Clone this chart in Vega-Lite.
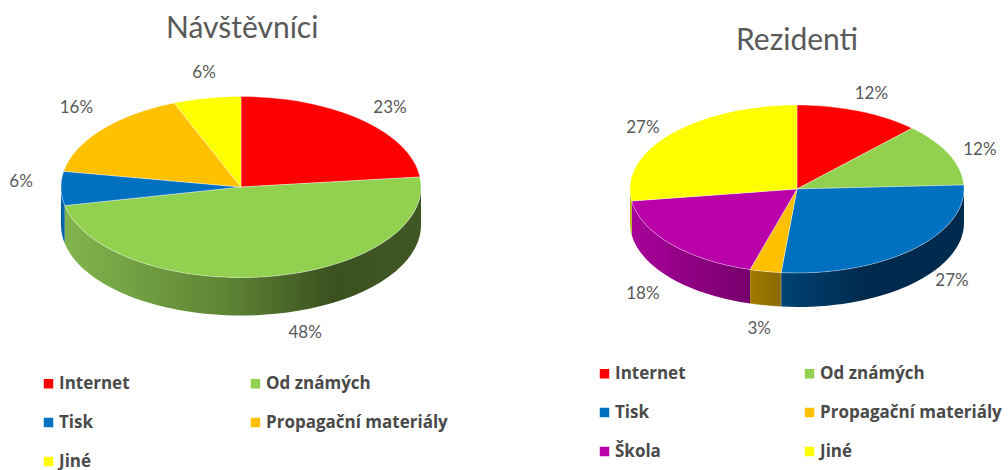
{
  "$schema": "https://vega.github.io/schema/vega-lite/v6.json",
  "padding": {"top": 14, "left": 0, "right": 0, "bottom": 0},
  "spacing": 0,
  "background": "white",
  "config": {"view": {"stroke": null}, "concat": {"spacing": 0}},
  "data": {"values": [
    {"panel": "Návštěvníci", "order": 1, "category": "Internet", "value": 23},
    {"panel": "Návštěvníci", "order": 2, "category": "Od známých", "value": 48},
    {"panel": "Návštěvníci", "order": 3, "category": "Tisk", "value": 6},
    {"panel": "Návštěvníci", "order": 4, "category": "Propagační materiály", "value": 16},
    {"panel": "Návštěvníci", "order": 5, "category": "Jiné", "value": 6},
    {"panel": "Rezidenti", "order": 1, "category": "Internet", "value": 12},
    {"panel": "Rezidenti", "order": 2, "category": "Od známých", "value": 12},
    {"panel": "Rezidenti", "order": 3, "category": "Tisk", "value": 27},
    {"panel": "Rezidenti", "order": 4, "category": "Propagační materiály", "value": 3},
    {"panel": "Rezidenti", "order": 5, "category": "Škola", "value": 18},
    {"panel": "Rezidenti", "order": 6, "category": "Jiné", "value": 27}
  ]},
  "hconcat": [
    {
      "width": 504,
      "height": 430,
      "title": {"text": "Návštěvníci", "font": "Lato", "fontSize": 30, "fontWeight": "normal", "color": "#595959", "anchor": "start", "dx": 166, "offset": -4},
      "transform": [
        {"filter": "datum.panel === 'Návštěvníci'"},
        {"stack": "value", "groupby": [], "sort": [{"field": "order", "order": "ascending"}], "offset": "normalize", "as": ["v0", "v1"]},
        {"calculate": "241", "as": "cx"},
        {"calculate": "147", "as": "cy"},
        {"calculate": "2*PI*datum.v0", "as": "a0"},
        {"calculate": "2*PI*datum.v1", "as": "a1"},
        {"calculate": "(datum.a0+datum.a1)/2", "as": "mid"},
        {"calculate": "'M0,0L'+round(1800*sin(datum.a0))/10+','+round(-905*cos(datum.a0))/10+'A180,90.5 0 '+(datum.a1-datum.a0>PI?1:0)+' 1 '+round(1800*sin(datum.a1))/10+','+round(-905*cos(datum.a1))/10+'Z'", "as": "wedge"},
        {"calculate": "max(datum.a0,PI/2)", "as": "r0"},
        {"calculate": "min(datum.a1,3*PI/2)", "as": "r1"},
        {"calculate": "'M'+round(1800*sin(datum.r0))/10+','+round(-905*cos(datum.r0))/10+'A180,90.5 0 0 1 '+round(1800*sin(datum.r1))/10+','+round(-905*cos(datum.r1))/10+'l0,38A180,90.5 0 0 0 '+round(1800*sin(datum.r0))/10+','+(round(-905*cos(datum.r0))/10+38)+'Z'", "as": "rim"},
        {"calculate": "241+216*sin(datum.mid)+({'Internet':5,'Od známých':30,'Tisk':-4,'Propagační materiály':3,'Jiné':4})[datum.category]", "as": "lx"},
        {"calculate": "147-108.6*cos(datum.mid)+(cos(datum.mid)<0?38:0)+({'Internet':2,'Od známých':1,'Tisk':-45,'Propagační materiály':-11,'Jiné':-7})[datum.category]", "as": "ly"},
        {"calculate": "format(datum.value,'d')+'%'", "as": "share"}
      ],
      "encoding": {
        "x": {"field": "cx", "type": "quantitative", "scale": {"domain": [0, 504], "nice": false, "zero": false}, "axis": null},
        "y": {"field": "cy", "type": "quantitative", "scale": {"domain": [0, 430], "nice": false, "zero": false, "reverse": true}, "axis": null}
      },
      "layer": [
        {
          "transform": [{"filter": "datum.category === 'Tisk'"}],
          "mark": {"type": "point", "filled": true, "opacity": 1, "size": 4, "fill": "#0062A8"},
          "encoding": {"shape": {"field": "rim", "type": "nominal", "scale": null, "legend": null}}
        },
        {
          "transform": [{"filter": "datum.category === 'Od známých'"}],
          "mark": {"type": "point", "filled": true, "opacity": 1, "size": 4, "fill": {"gradient": "linear", "x1": 0, "x2": 1, "y1": 0, "y2": 0, "stops": [{"offset": 0, "color": "#82B54D"}, {"offset": 0.45, "color": "#5E8434"}, {"offset": 0.75, "color": "#3B5220"}, {"offset": 1, "color": "#3F5723"}]}},
          "encoding": {"shape": {"field": "rim", "type": "nominal", "scale": null, "legend": null}}
        },
        {
          "mark": {"type": "point", "filled": true, "opacity": 1, "size": 4, "stroke": "#ffffff", "strokeWidth": 0.5, "strokeOpacity": 0.7},
          "encoding": {
            "shape": {"field": "wedge", "type": "nominal", "scale": null, "legend": null},
            "color": {
              "field": "category",
              "type": "nominal",
              "sort": null,
              "scale": {"domain": ["Internet", "Od známých", "Tisk", "Propagační materiály", "Jiné"], "range": ["#FF0000", "#92D050", "#0070C0", "#FFC000", "#FFFF00"]},
              "legend": {"title": null, "orient": "none", "legendX": 40, "legendY": 335, "direction": "horizontal", "columns": 2, "gridAlign": "all", "symbolType": "square", "symbolSize": 90, "symbolStrokeWidth": 0, "labelFont": "Open Sans", "labelFontSize": 17, "labelFontWeight": "bold", "labelColor": "#4A4A4A", "labelLimit": 300, "labelOffset": 2, "rowPadding": 21, "columnPadding": 6}
            }
          }
        },
        {
          "mark": {"type": "text", "font": "Lato", "fontSize": 17, "color": "#595959", "align": "center", "baseline": "middle"},
          "encoding": {
            "x": {"field": "lx", "type": "quantitative"},
            "y": {"field": "ly", "type": "quantitative"},
            "text": {"field": "share", "type": "nominal"}
          }
        }
      ]
    },
    {
      "width": 504,
      "height": 430,
      "title": {"text": "Rezidenti", "font": "Lato", "fontSize": 30, "fontWeight": "normal", "color": "#595959", "anchor": "start", "dx": 232, "dy": 12, "offset": -4},
      "transform": [
        {"filter": "datum.panel === 'Rezidenti'"},
        {"stack": "value", "groupby": [], "sort": [{"field": "order", "order": "ascending"}], "offset": "normalize", "as": ["v0", "v1"]},
        {"calculate": "293", "as": "cx"},
        {"calculate": "149", "as": "cy"},
        {"calculate": "2*PI*datum.v0", "as": "a0"},
        {"calculate": "2*PI*datum.v1", "as": "a1"},
        {"calculate": "(datum.a0+datum.a1)/2", "as": "mid"},
        {"calculate": "'M0,0L'+round(1670*sin(datum.a0))/10+','+round(-840*cos(datum.a0))/10+'A167,84 0 '+(datum.a1-datum.a0>PI?1:0)+' 1 '+round(1670*sin(datum.a1))/10+','+round(-840*cos(datum.a1))/10+'Z'", "as": "wedge"},
        {"calculate": "max(datum.a0,PI/2)", "as": "r0"},
        {"calculate": "min(datum.a1,3*PI/2)", "as": "r1"},
        {"calculate": "'M'+round(1670*sin(datum.r0))/10+','+round(-840*cos(datum.r0))/10+'A167,84 0 0 1 '+round(1670*sin(datum.r1))/10+','+round(-840*cos(datum.r1))/10+'l0,34A167,84 0 0 0 '+round(1670*sin(datum.r0))/10+','+(round(-840*cos(datum.r0))/10+34)+'Z'", "as": "rim"},
        {"calculate": "293+200*sin(datum.mid)+({'Internet':0,'Od známých':1,'Tisk':17,'Propagační materiály':0,'Škola':-3,'Jiné':-3})[datum.category]", "as": "lx"},
        {"calculate": "149-101*cos(datum.mid)+(cos(datum.mid)<0?34:0)+({'Internet':-1,'Od známých':3,'Tisk':-15,'Propagační materiály':7,'Škola':5,'Jiné':5})[datum.category]", "as": "ly"},
        {"calculate": "format(datum.value,'d')+'%'", "as": "share"}
      ],
      "encoding": {
        "x": {"field": "cx", "type": "quantitative", "scale": {"domain": [0, 504], "nice": false, "zero": false}, "axis": null},
        "y": {"field": "cy", "type": "quantitative", "scale": {"domain": [0, 430], "nice": false, "zero": false, "reverse": true}, "axis": null}
      },
      "layer": [
        {
          "transform": [{"filter": "datum.category === 'Tisk'"}],
          "mark": {"type": "point", "filled": true, "opacity": 1, "size": 4, "fill": {"gradient": "linear", "x1": 0, "x2": 1, "y1": 0, "y2": 0, "stops": [{"offset": 0, "color": "#004274"}, {"offset": 0.45, "color": "#002A4D"}, {"offset": 1, "color": "#002B4E"}]}},
          "encoding": {"shape": {"field": "rim", "type": "nominal", "scale": null, "legend": null}}
        },
        {
          "transform": [{"filter": "datum.category === 'Propagační materiály'"}],
          "mark": {"type": "point", "filled": true, "opacity": 1, "size": 4, "stroke": "#ffffff", "strokeWidth": 0.5, "strokeOpacity": 0.5, "fill": {"gradient": "linear", "x1": 0, "x2": 1, "y1": 0, "y2": 0, "stops": [{"offset": 0, "color": "#A17A00"}, {"offset": 1, "color": "#8A6900"}]}},
          "encoding": {"shape": {"field": "rim", "type": "nominal", "scale": null, "legend": null}}
        },
        {
          "transform": [{"filter": "datum.category === 'Škola'"}],
          "mark": {"type": "point", "filled": true, "opacity": 1, "size": 4, "fill": {"gradient": "linear", "x1": 0, "x2": 1, "y1": 0, "y2": 0, "stops": [{"offset": 0, "color": "#A8009A"}, {"offset": 1, "color": "#76006C"}]}},
          "encoding": {"shape": {"field": "rim", "type": "nominal", "scale": null, "legend": null}}
        },
        {
          "transform": [{"filter": "datum.category === 'Jiné'"}],
          "mark": {"type": "point", "filled": true, "opacity": 1, "size": 4, "fill": "#B5B500"},
          "encoding": {"shape": {"field": "rim", "type": "nominal", "scale": null, "legend": null}}
        },
        {
          "mark": {"type": "point", "filled": true, "opacity": 1, "size": 4, "stroke": "#ffffff", "strokeWidth": 0.5, "strokeOpacity": 0.7},
          "encoding": {
            "shape": {"field": "wedge", "type": "nominal", "scale": null, "legend": null},
            "color": {
              "field": "category",
              "type": "nominal",
              "sort": null,
              "scale": {"domain": ["Internet", "Od známých", "Tisk", "Propagační materiály", "Škola", "Jiné"], "range": ["#FF0000", "#92D050", "#0070C0", "#FFC000", "#BA00A8", "#FFFF00"]},
              "legend": {"title": null, "orient": "none", "legendX": 92, "legendY": 325, "direction": "horizontal", "columns": 2, "gridAlign": "all", "symbolType": "square", "symbolSize": 90, "symbolStrokeWidth": 0, "labelFont": "Open Sans", "labelFontSize": 17, "labelFontWeight": "bold", "labelColor": "#4A4A4A", "labelLimit": 300, "labelOffset": 2, "rowPadding": 21, "columnPadding": 4}
            }
          }
        },
        {
          "mark": {"type": "text", "font": "Lato", "fontSize": 17, "color": "#595959", "align": "center", "baseline": "middle"},
          "encoding": {
            "x": {"field": "lx", "type": "quantitative"},
            "y": {"field": "ly", "type": "quantitative"},
            "text": {"field": "share", "type": "nominal"}
          }
        }
      ]
    }
  ],
  "resolve": {"scale": {"color": "independent"}, "legend": {"color": "independent"}}
}
